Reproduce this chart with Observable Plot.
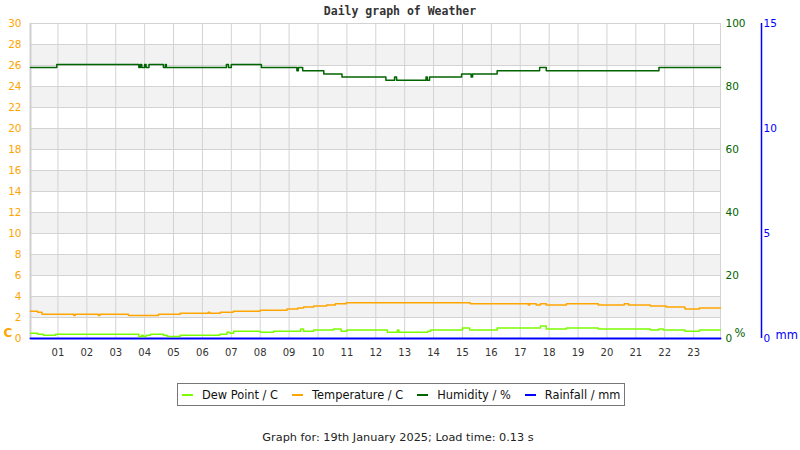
<!DOCTYPE html>
<html><head><meta charset="utf-8">
<script src="https://cdn.jsdelivr.net/npm/d3@7"></script>
<script src="https://cdn.jsdelivr.net/npm/@observablehq/plot@0.6"></script>
<style>
body{margin:0;background:#fff;font-family:"DejaVu Sans",sans-serif;}
#wrap{position:relative;width:800px;height:450px;overflow:hidden;}
#title{position:absolute;top:4px;left:0;width:800px;text-align:center;font:bold 11.5px "DejaVu Sans Mono",monospace;color:#333;line-height:14px;}
#chart{position:absolute;top:0;left:0;}
#legend{position:absolute;left:177px;top:383px;border:1px solid #777;display:flex;align-items:center;padding-left:4px;box-sizing:border-box;width:448px;height:23px;font-size:11.4px;color:#111;white-space:nowrap;}
.item{display:flex;align-items:center;margin-right:14px;flex-shrink:0;}
.sw{width:11px;height:2px;margin-right:9px;flex-shrink:0;}
#footer{position:absolute;top:431px;left:0;width:796px;text-align:center;font-size:11.3px;color:#222;line-height:13px;white-space:nowrap;}
</style></head>
<body><div id="wrap"><div id="chart"></div><div id="title"></div><div id="legend"></div><div id="footer"></div></div>
<script>
const titleText = "Daily graph of Weather";
const footerText = "Graph for: 19th January 2025; Load time: 0.13 s";
const seriesNames = ["Dew Point / C", "Temperature / C", "Humidity / %", "Rainfall / mm"];
const seriesColors = ["#7CFC00", "#FFA500", "#006400", "#0000FF"];

const tempHours  = [0.05, 0.3, 0.45, 1.55, 1.6, 2.4, 2.45, 3.44, 4.48, 5.23, 6.2, 6.25, 6.62, 7.07, 8.0, 8.93, 9.3, 9.5, 9.85, 10.3, 10.6, 10.98, 15.27, 17.28, 17.32, 17.55, 17.7, 17.9, 18.6, 19.7, 20.6, 20.75, 21.5, 22.05, 22.7, 23.2, 23.93];
const tempValues = [2.6, 2.5, 2.3, 2.2, 2.3, 2.2, 2.3, 2.2, 2.3, 2.4, 2.5, 2.4, 2.5, 2.6, 2.7, 2.8, 2.9, 3.0, 3.1, 3.2, 3.3, 3.4, 3.3, 3.2, 3.3, 3.2, 3.3, 3.2, 3.3, 3.2, 3.3, 3.2, 3.1, 3.0, 2.8, 2.9, 2.9];

const dewHours  = [0.05, 0.3, 0.5, 0.92, 3.8, 3.9, 3.95, 4.05, 4.2, 4.65, 4.78, 5.23, 6.6, 6.85, 6.95, 7.08, 8.0, 8.46, 9.4, 9.5, 9.85, 10.54, 10.8, 11.0, 12.4, 12.75, 12.8, 13.8, 13.9, 15.0, 15.25, 15.35, 16.2, 17.7, 17.9, 18.6, 19.7, 21.5, 21.8, 21.95, 22.7, 23.2, 23.93];
const dewValues = [0.5, 0.4, 0.3, 0.4, 0.2, 0.3, 0.2, 0.3, 0.4, 0.3, 0.2, 0.3, 0.4, 0.6, 0.5, 0.7, 0.6, 0.7, 0.9, 0.7, 0.8, 0.9, 0.7, 0.8, 0.6, 0.8, 0.6, 0.7, 0.8, 1.0, 0.8, 0.8, 1.0, 1.2, 0.9, 1.0, 0.9, 0.8, 0.9, 0.8, 0.7, 0.8, 0.8];

const humHours  = [0.05, 0.96, 3.8, 3.85, 3.9, 4.0, 4.05, 4.15, 4.65, 4.72, 4.75, 6.83, 6.9, 7.0, 8.04, 9.27, 9.32, 9.47, 10.2, 10.83, 12.35, 12.65, 12.72, 13.74, 13.78, 13.86, 14.97, 15.3, 15.35, 16.2, 17.67, 17.9, 21.8, 23.93];
const humValues = [86, 87, 86, 87, 86, 87, 86, 87, 86, 87, 86, 87, 86, 87, 86, 85, 86, 85, 84, 83, 82, 83, 82, 83, 82, 83, 84, 83, 84, 85, 86, 85, 86, 86];

const rainHours  = [0.05, 23.93];
const rainValues = [0, 0];

const leftTicks  = d3.range(0, 31, 2);
const hourTicks  = d3.range(1, 24);
const humTicks   = [0, 20, 40, 60, 80, 100];
const rainTicks  = [0, 5, 10, 15];
const bandStarts = [2, 6, 10, 14, 18, 22, 26];

const humToLeft = 30 / 100;
const rainToLeft = 30 / 15;

const toRows = (hs, vs, k) => hs.map((h, i) => ({h, v: vs[i] * k}));
const dew = toRows(dewHours, dewValues, 1);
const temp = toRows(tempHours, tempValues, 1);
const hum = toRows(humHours, humValues, humToLeft);
const rain = toRows(rainHours, rainValues, rainToLeft);

const xMin = d3.min([...tempHours, ...humHours]);
const xMax = d3.max([...tempHours, ...humHours]);

const plot = Plot.plot({
  width: 800, height: 370,
  marginTop: 23, marginBottom: 32, marginLeft: 30, marginRight: 80,
  style: {fontFamily: "DejaVu Sans, sans-serif", fontSize: "10px", background: "transparent"},
  x: {domain: [xMin, xMax]},
  y: {domain: [0, 30]},
  marks: [
    Plot.rect(bandStarts, {x1: () => xMin, x2: () => xMax, y1: d => d, y2: d => d + 2, fill: "#f2f2f2"}),
    Plot.gridY(leftTicks, {stroke: "#d3d3d3", strokeOpacity: 1}),
    Plot.gridX(hourTicks, {stroke: "#d3d3d3", strokeOpacity: 1}),
    Plot.ruleX([xMax], {stroke: "#d3d3d3"}),
    Plot.ruleX([xMin], {stroke: "#cfcfcf", strokeWidth: 2}),
    Plot.axisY(leftTicks, {anchor: "left", tickSize: 0, tickPadding: 9, fill: "#FFA500", fontSize: 10.5, label: null}),
    Plot.axisY(humTicks.map(d => d * humToLeft), {anchor: "right", tickSize: 0, tickPadding: 5, fill: "#006400", fontSize: 10.5, label: null, tickFormat: d => String(Math.round(d / humToLeft))}),
    Plot.axisX(hourTicks, {tickSize: 0, tickPadding: 10, fill: "#333", fontSize: 10, label: null, tickFormat: d3.format("02d")}),
    Plot.ruleX([xMax], {y1: 0, y2: 30, dx: 41, stroke: "#0000FF", strokeWidth: 1.5}),
    Plot.text(rainTicks, {x: () => xMax, y: d => d * rainToLeft, text: d => String(d), dx: 43, textAnchor: "start", fill: "#0000FF", fontSize: 10.5}),
    Plot.text(["C"], {x: () => xMin, y: () => 0.5, dx: -27, textAnchor: "start", fill: "#FFA500", fontWeight: "bold", fontSize: 12}),
    Plot.text(["%"], {x: () => xMax, y: () => 0.5, dx: 14, textAnchor: "start", fill: "#006400", fontSize: 11.5}),
    Plot.text(["mm"], {x: () => xMax, y: () => 0.3, dx: 55, textAnchor: "start", fill: "#0000FF", fontSize: 11.5}),
    Plot.line(rain, {x: "h", y: "v", stroke: seriesColors[3], strokeWidth: 2, curve: "step-after"}),
    Plot.line(dew, {x: "h", y: "v", stroke: seriesColors[0], strokeWidth: 1.5, curve: "step-after"}),
    Plot.line(temp, {x: "h", y: "v", stroke: seriesColors[1], strokeWidth: 1.5, curve: "step-after"}),
    Plot.line(hum, {x: "h", y: "v", stroke: seriesColors[2], strokeWidth: 1.5, curve: "step-after"})
  ]
});
document.getElementById("chart").appendChild(plot);
document.getElementById("title").textContent = titleText;
document.getElementById("footer").textContent = footerText;
const leg = document.getElementById("legend");
seriesNames.forEach((n, i) => {
  const it = document.createElement("div"); it.className = "item";
  const sw = document.createElement("div"); sw.className = "sw"; sw.style.background = seriesColors[i];
  const t = document.createElement("span"); t.textContent = n;
  it.appendChild(sw); it.appendChild(t); leg.appendChild(it);
});
</script></body></html>
